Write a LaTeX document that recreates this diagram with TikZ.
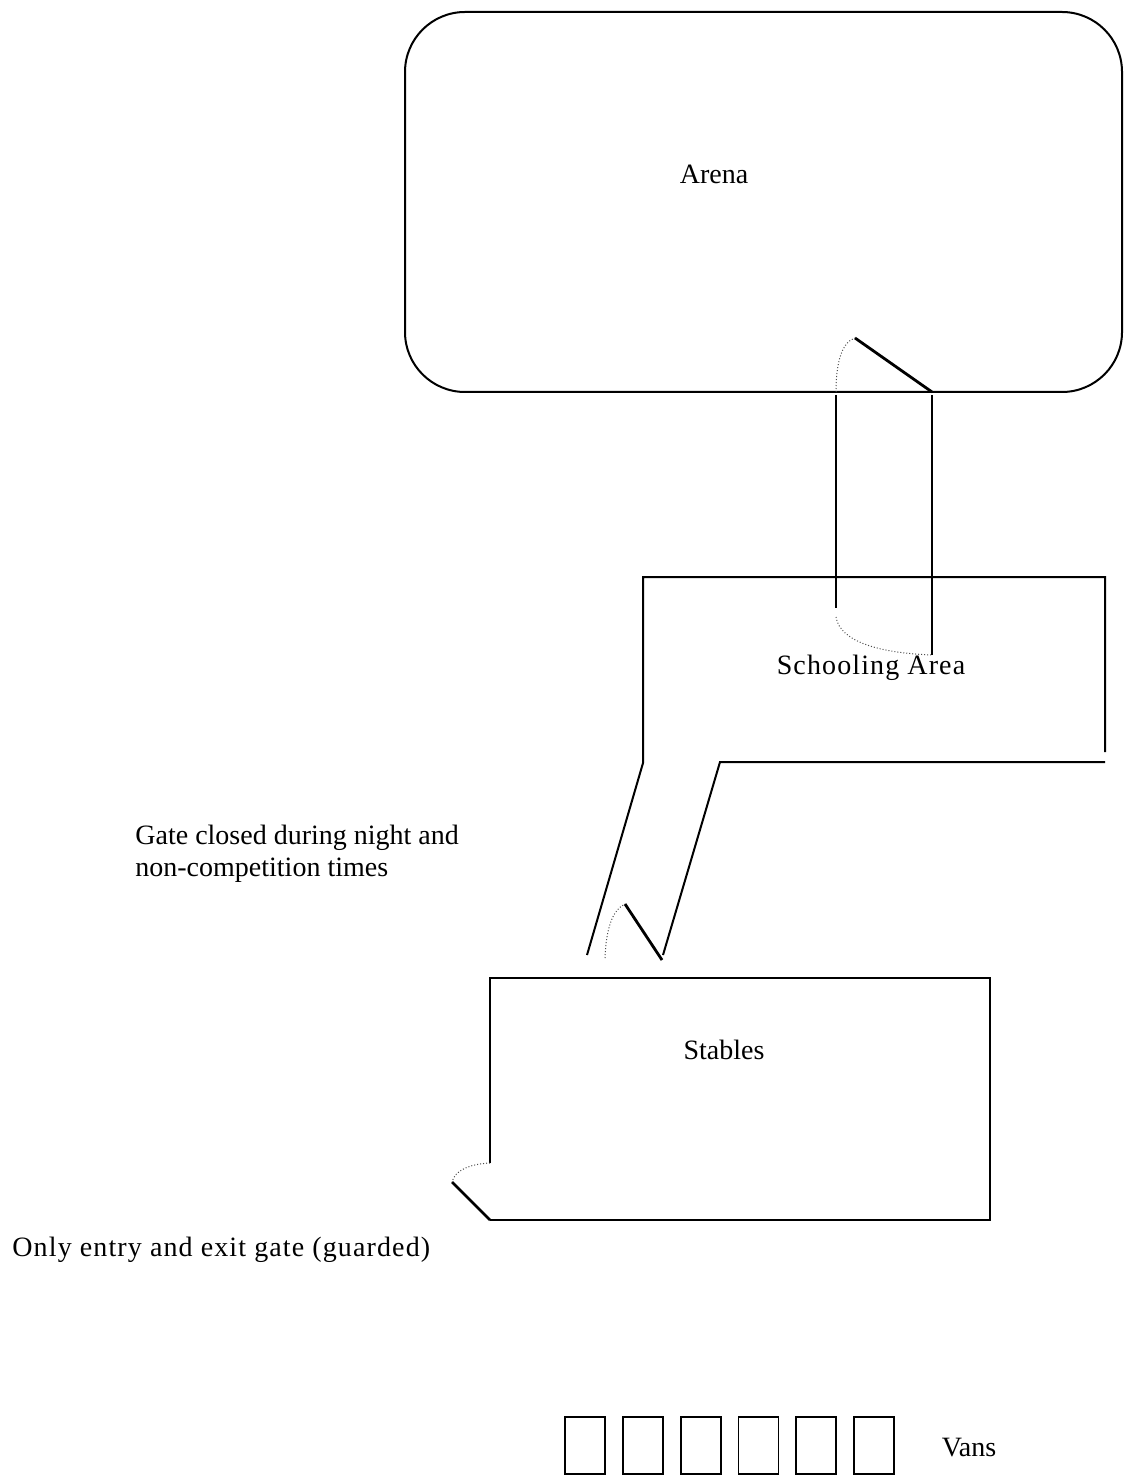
\documentclass[tikz,border=0pt]{standalone}
\usepackage{fontspec}
\setmainfont{Liberation Serif}
\usepackage{tikz}
\usetikzlibrary{positioning}
\tikzstyle{plan} = [x = 0.5pt, y = -0.5pt]
\tikzstyle{wallLine} = [color=black, line width=1pt]
\tikzstyle{gateLine} = [color=black, line width=1.4pt]
\tikzstyle{gateSwing} = [color=black!70, densely dotted, line width=0.5pt]
\tikzstyle{vanBox} = [color=black, line width=0.9pt]
\tikzstyle{planText} = [font=\fontsize{14}{16}\selectfont, inner sep=0pt]
\tikzstyle{wideText} = [inner sep=0pt, font=\fontsize{14}{16}\selectfont\addfontfeature{LetterSpace=4}]
\newcommand{\vanWidth}{40}
\newcommand{\vanStep}{57.8}
\newcommand{\van}[1]{\draw [vanBox] (565 + #1 * \vanStep, 1417) rectangle + (\vanWidth, 57);}

\begin{document}
\begin{tikzpicture}[plan]
            \useasboundingbox (0,0) rectangle (1123,1475);

            % arena
            \draw [wallLine, rounded corners = 30pt] (405,12) rectangle (1122,392);
            \node [planText] (arena) at (714,174) {Arena};

            % lane from arena to schooling area
            \draw [wallLine] (836,395) -- (836,608);
            \draw [wallLine] (932,395) -- (932,608);
            \draw [gateSwing] (836,392) .. controls (836,362) and (842,342) .. (855,338);
            \draw [gateLine] (855,338) -- (932,392);
            \draw [gateLine] (932,608) -- (932,655);
            \draw [gateSwing] (836,617) .. controls (840,642) and (880,653) .. (932,655);

            % schooling area
            \draw [wallLine] (1105,752) -- (1105,577) -- (643,577) -- (643,763) -- (587,955);
            \draw [wallLine] (1105,762) -- (720,762) -- (663,955);
            \node [wideText] (school) at (871,668) {Schooling Area};

            % gate to the stables
            \draw [gateSwing] (605,958) .. controls (606,930) and (612,910) .. (625,904);
            \draw [gateLine] (625,904) -- (662,960);
            \node [planText, anchor=west, align=left] (gateNote) at (135,854)
              {Gate closed during night and\\non-competition times};

            % stables
            \draw [wallLine] (490,1163) -- (490,978) -- (990,978) -- (990,1220) -- (490,1220);
            \draw [gateLine] (490,1220) -- (452,1182);
            \draw [gateSwing] (490,1163) .. controls (470,1164) and (455,1170) .. (452,1182);
            \node [planText] (stables) at (724,1050) {Stables};
            \node [wideText, anchor=west] (entryNote) at (12,1250) {Only entry and exit gate (guarded)};

            % vans
            \foreach \i in {0,...,5} {
              \van{\i}
            }
            \node [planText] (vans) at (969,1448) {Vans};
          \end{tikzpicture}
\end{document}
